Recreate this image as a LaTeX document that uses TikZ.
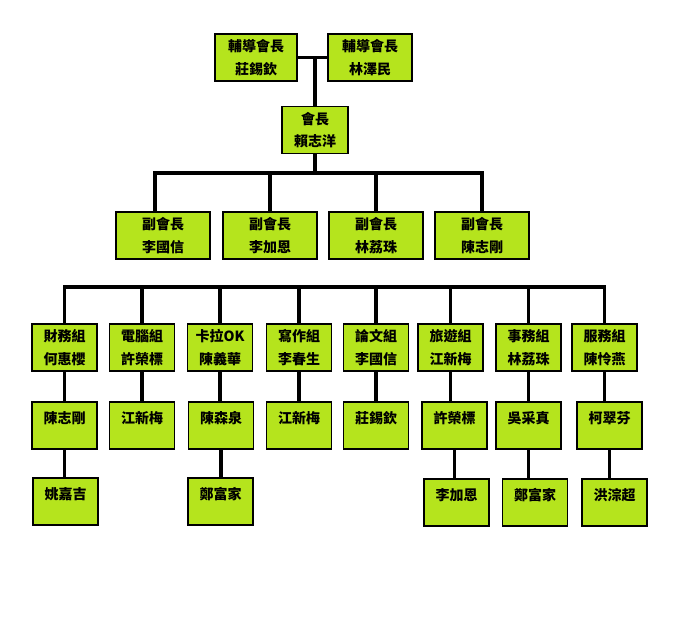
\documentclass[tikz,border=0pt]{standalone}
\usepackage{fontspec}
\setmainfont{Noto Sans CJK TC}
\definecolor{boxgreen}{RGB}{181,228,29}
\begin{document}
\begin{tikzpicture}[
        x=0.75pt, y=-0.75pt,
        every node/.style={font=\bfseries\fontsize{10.5}{17}\selectfont},
        orgbox/.style={rectangle, draw=black, line width=1pt, fill=boxgreen, align=center, minimum width=#1, minimum height=35.25pt, inner sep=0pt},
        orgbox/.default=48.75pt,
        member/.style={orgbox, label={[anchor=north, inner sep=0pt, yshift=-7.5pt]north:#1}},
        link/.style={line width=2.4pt, draw=black}
        ]
        \fill[white] (0,0) rectangle (684,630);
        \useasboundingbox (0,0) rectangle (684,630);

        % advisors and president
        \node[orgbox=61.5pt] (adv1) at (256,57.5) {輔導會長\\莊錫欽};
        \node[orgbox=63pt] (adv2) at (370,57.5) {輔導會長\\林澤民};
        \node[orgbox=49.5pt] (pres) at (315,130) {會長\\賴志洋};

        % vice presidents
        \node[orgbox=70.5pt] (vp1) at (163,235.5) {副會長\\李國信};
        \node[orgbox=70.5pt] (vp2) at (270,235.5) {副會長\\李加恩};
        \node[orgbox=70.5pt] (vp3) at (376,235.5) {副會長\\林荔珠};
        \node[orgbox=70.5pt] (vp4) at (482,235.5) {副會長\\陳志剛};

        % groups
        \node[orgbox] (g1) at (64.5,347.5) {財務組\\何惠櫻};
        \node[orgbox] (g2) at (142,347.5) {電腦組\\許榮標};
        \node[orgbox] (g3) at (220,347.5) {卡拉OK\\陳義華};
        \node[orgbox] (g4) at (299,347.5) {寫作組\\李春生};
        \node[orgbox] (g5) at (376,347.5) {論文組\\李國信};
        \node[orgbox] (g6) at (450.5,347.5) {旅遊組\\江新梅};
        \node[orgbox] (g7) at (528.5,347.5) {事務組\\林荔珠};
        \node[orgbox] (g8) at (604.5,347.5) {服務組\\陳怜燕};

        % members
        \node[member=陳志剛] (m1) at (64.5,425.5) {};
        \node[member=江新梅] (m2) at (142,425.5) {};
        \node[member=陳森泉] (m3) at (221,425.5) {};
        \node[member=江新梅] (m4) at (299,425.5) {};
        \node[member=莊錫欽] (m5) at (376,425.5) {};
        \node[member=許榮標] (m6) at (454.5,425.5) {};
        \node[member=吳采真] (m7) at (528.5,425.5) {};
        \node[member=柯翠芬] (m8) at (609.5,425.5) {};

        \node[member=姚嘉吉] (s1) at (65.5,501.5) {};
        \node[member=鄭富家] (s2) at (220.5,501.5) {};
        \node[member=李加恩] (s3) at (456.5,502.5) {};
        \node[member=鄭富家] (s4) at (535,502.5) {};
        \node[member=洪淙超] (s5) at (614.5,502.5) {};

        % bus lines
        \coordinate (vpbus) at (0,173);
        \coordinate (gbus) at (0,287);

        % connectors
        \draw[link] (adv1) -- (adv2);
        \draw[link] (pres.north) -- (pres.north |- adv1);
        \draw[link] (pres.south) -- (pres.south |- vpbus);
        \draw[link] ([xshift=-6]vp1.north) |- (vpbus -| vp4.north) -- (vp4.north);
        \foreach \v in {vp2,vp3}
            \draw[link] (\v.north) -- (\v.north |- vpbus);
        \draw[link] (g1.north) |- (gbus -| g8.north) -- (g8.north);
        \foreach \g in {g2,g3,g4,g5,g6,g7}
            \draw[link] (\g.north) -- (\g.north |- gbus);
        \foreach \a/\b in {g1/m1,g2/m2,g3/m3,g4/m4,g5/m5,g6/m6,g7/m7,g8/m8,m1/s1,m3/s2,m6/s3,m7/s4,m8/s5}
            \draw[link] (\a.south) -- (\a.south |- \b.north);
\end{tikzpicture}
\end{document}
